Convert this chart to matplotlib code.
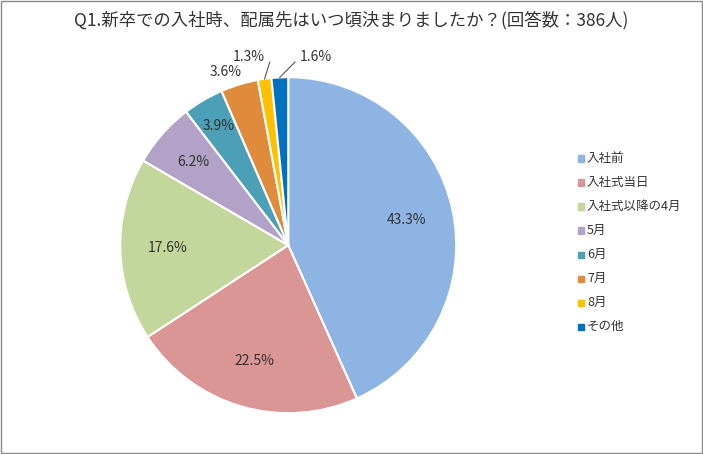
import matplotlib
matplotlib.use("Agg")
import matplotlib.pyplot as plt
import numpy as np

plt.rcParams['font.family'] = ['Noto Sans CJK JP']

categories = ["入社前", "入社式当日", "入社式以降の4月", "5月", "6月", "7月", "8月", "その他"]
values = [43.3, 22.5, 17.6, 6.2, 3.9, 3.6, 1.3, 1.6]
labels = ["43.3%", "22.5%", "17.6%", "6.2%", "3.9%", "3.6%", "1.3%", "1.6%"]
colors = ["#8EB4E3", "#D99694", "#C3D69B", "#B3A2C7", "#4BA0B8", "#E08A3C", "#FFC000", "#0070C0"]

fig = plt.figure(figsize=(7.03, 4.54), dpi=100)
fig.patches.append(plt.Rectangle((0.002, 0.002), 0.996, 0.996, transform=fig.transFigure,
                                 fill=False, edgecolor="#888888", linewidth=1))
ax = fig.add_axes([0.41 - 0.239, 0.46 - 0.37, 0.478, 0.74])
wedges, _ = ax.pie(values, colors=colors, startangle=90, counterclock=False,
                   wedgeprops=dict(edgecolor="white", linewidth=1.5))
ax.set_aspect("equal")

for i, w in enumerate(wedges):
    ang = np.deg2rad((w.theta1 + w.theta2) / 2)
    if i <= 4:
        r = 0.72 if values[i] > 10 else (0.75 if i == 3 else 0.82)
        ax.text(r * np.cos(ang), r * np.sin(ang), labels[i], ha="center", va="center", fontsize=10, color="#333333")
    elif i == 5:
        ax.text(-0.37, 1.03, labels[i], ha="center", va="center", fontsize=10, color="#333333")
    else:
        tx, ty = (-0.14, 1.12) if i == 6 else (0.07, 1.12)
        ax.plot([np.cos(ang), tx + (0.03 if i == 6 else -0.03)], [np.sin(ang), ty - 0.03],
                color="#555555", lw=0.8, clip_on=False)
        ax.text(tx, ty, labels[i], ha="right" if i == 6 else "left", va="center", fontsize=10, color="#333333")

ax.set_xlim(-1.0, 1.0)
ax.set_ylim(-1.0, 1.0)

fig.text(0.5, 0.955, "Q1.新卒での入社時、配属先はいつ頃決まりましたか？(回答数：386人)", ha="center", va="center", fontsize=12.5, color="#333333")

for i, c in enumerate(categories):
    y = 0.652 - i * 0.053
    fig.patches.append(plt.Rectangle((0.822, y - 0.008), 0.009, 0.014, transform=fig.transFigure, color=colors[i]))
    fig.text(0.835, y, c, ha="left", va="center", fontsize=9, color="#333333")

fig.savefig("out.png", dpi=100)
